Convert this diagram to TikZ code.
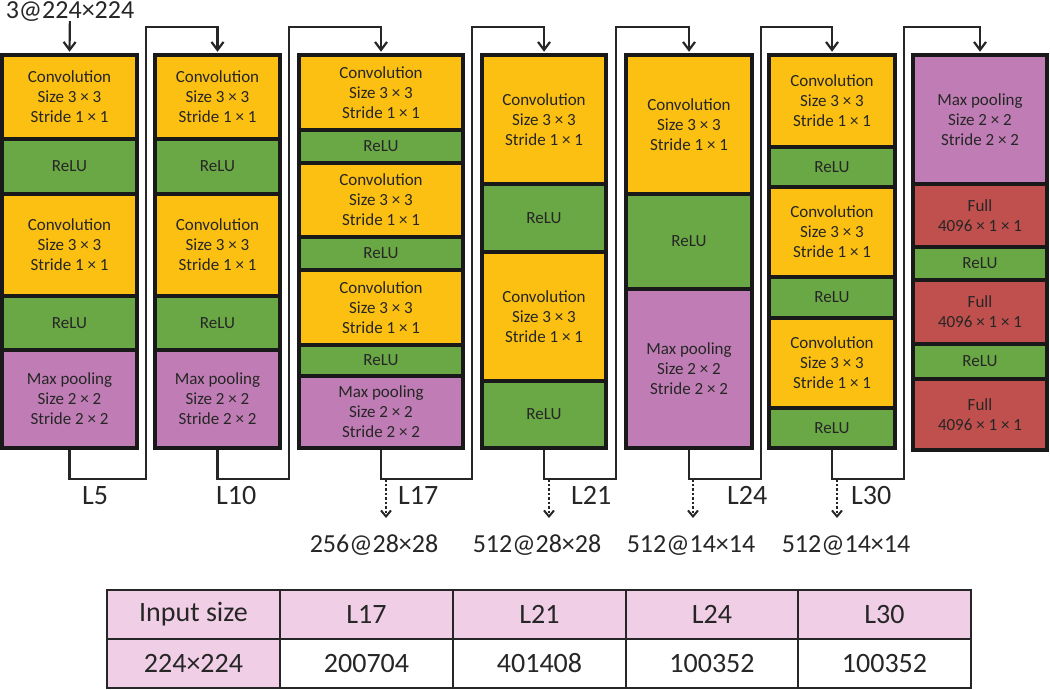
\documentclass[tikz,border=0pt]{standalone}
\usepackage{fontspec}
\setmainfont{Carlito}
\usetikzlibrary{arrows.meta,calc}

\definecolor{convorange}{HTML}{FCC012}
\definecolor{relugreen}{HTML}{6AA846}
\definecolor{poolpurple}{HTML}{C07DB5}
\definecolor{fullred}{HTML}{C0504D}
\definecolor{tablepink}{HTML}{F0CFE6}
\definecolor{inkgray}{HTML}{262626}

% box from left/right/top/bottom in pixel units
\newcommand{\blkbox}[7]{%
  \node[#2, minimum width={(#4-#3)*1pt}, minimum height={(#6-#5)*1pt}] (#1) at ({(#3+#4)/2},{(#5+#6)/2}) {#7};}
\newcommand{\convtxt}{Convolution\\Size 3 × 3\\Stride 1 × 1}
\newcommand{\pooltxt}{Max pooling\\Size 2 × 2\\Stride 2 × 2}
\newcommand{\fulltxt}{Full\\4096 × 1 × 1}

\begin{document}
\begin{tikzpicture}[x=1pt, y=-1pt,
  blk/.style={draw=black!90, line width=3.5pt, inner sep=0pt, align=center, text=inkgray, font=\fontsize{17}{20}\selectfont},
  conv/.style={blk, fill=convorange},
  relu/.style={blk, fill=relugreen},
  pool/.style={blk, fill=poolpurple},
  full/.style={blk, fill=fullred},
  cell/.style={draw=inkgray, line width=1.5pt, inner sep=0pt, text=inkgray, font=\fontsize{28}{32}\selectfont},
  link/.style={draw=inkgray, line width=2.2pt, shorten >=1.5pt, -{Straight Barb[length=8pt,width=12pt]}},
  tap/.style={draw=inkgray, line width=2pt, dash pattern=on 2.5pt off 2pt, -{Straight Barb[length=6pt,width=10pt]}},
  lbl/.style={inner sep=0pt, text=inkgray, font=\fontsize{28}{32}\selectfont},
  outlbl/.style={inner sep=0pt, text=inkgray, font=\fontsize{26}{30}\selectfont}]

\useasboundingbox (0,0) rectangle (1050,689);

% Input
\node[outlbl, anchor=base] (inp) at (70,18) {3@224×224};

% Block 1 and 2
\foreach \c/\l/\r in {1/2/137, 2/155/280} {
  \blkbox{c\c a}{conv}{\l}{\r}{55}{139}{\convtxt}
  \blkbox{c\c b}{relu}{\l}{\r}{139}{194}{ReLU}
  \blkbox{c\c c}{conv}{\l}{\r}{194}{296}{\convtxt}
  \blkbox{c\c d}{relu}{\l}{\r}{296}{350}{ReLU}
  \blkbox{c\c e}{pool}{\l}{\r}{350}{448}{\pooltxt}
}

% Block 3
\blkbox{c3a}{conv}{299}{463}{55}{130}{\convtxt}
\blkbox{c3b}{relu}{299}{463}{130}{163}{ReLU}
\blkbox{c3c}{conv}{299}{463}{163}{237}{\convtxt}
\blkbox{c3d}{relu}{299}{463}{237}{270}{ReLU}
\blkbox{c3e}{conv}{299}{463}{270}{345}{\convtxt}
\blkbox{c3f}{relu}{299}{463}{345}{376}{ReLU}
\blkbox{c3g}{pool}{299}{463}{376}{448}{\pooltxt}

% Block 4
\blkbox{c4a}{conv}{482}{606}{55}{184}{\convtxt}
\blkbox{c4b}{relu}{482}{606}{184}{252}{ReLU}
\blkbox{c4c}{conv}{482}{606}{252}{381}{\convtxt}
\blkbox{c4d}{relu}{482}{606}{381}{448}{ReLU}

% Block 5
\blkbox{c5a}{conv}{626}{752}{55}{194}{\convtxt}
\blkbox{c5b}{relu}{626}{752}{194}{289}{ReLU}
\blkbox{c5c}{pool}{626}{752}{289}{448}{\pooltxt}

% Block 6
\blkbox{c6a}{conv}{769}{895}{55}{147}{\convtxt}
\blkbox{c6b}{relu}{769}{895}{147}{187}{ReLU}
\blkbox{c6c}{conv}{769}{895}{187}{277}{\convtxt}
\blkbox{c6d}{relu}{769}{895}{277}{318}{ReLU}
\blkbox{c6e}{conv}{769}{895}{318}{408}{\convtxt}
\blkbox{c6f}{relu}{769}{895}{408}{448}{ReLU}

% Block 7
\blkbox{c7a}{pool}{913}{1047}{55}{184}{\pooltxt}
\blkbox{c7b}{full}{913}{1047}{184}{247}{\fulltxt}
\blkbox{c7c}{relu}{913}{1047}{247}{280}{ReLU}
\blkbox{c7d}{full}{913}{1047}{280}{344}{\fulltxt}
\blkbox{c7e}{relu}{913}{1047}{344}{379}{ReLU}
\blkbox{c7f}{full}{913}{1047}{379}{450}{\fulltxt}

% Connections
\draw[link] (inp) -- (c1a.north);
\foreach \a/\b/\r in {c1e/c2a/146, c2e/c3a/289, c3g/c4a/472, c4d/c5a/616, c5c/c6a/761, c6f/c7a/904}
  \draw[link] (\a.south) |- (\r,479) -- (\r,27) -| (\b.north);

% Layer labels
\foreach \n/\x in {L5/82, L10/216, L17/398, L21/571, L24/727, L30/851}
  \node[lbl, anchor=base west] (lab\n) at (\x,504) {\n};

% Feature outputs
\foreach \n/\tx/\cx/\t in {17/386/374/256@28×28, 21/549/537/512@28×28, 24/693/691/512@14×14, 30/837/846/512@14×14} {
  \coordinate (t\n) at (\tx,479);
  \coordinate (u\n) at (\tx,518);
  \node[outlbl, anchor=base] (o\n) at (\cx,552) {\t};
  \draw[tap] (t\n) -- (u\n);
}

% Table
\foreach \i/\xa/\xb/\h/\v/\f in {1/107/280/Input size/224×224/tablepink, 2/280/453/L17/200704/white, 3/453/626/L21/401408/white, 4/626/798/L24/100352/white, 5/798/971/L30/100352/white} {
  \blkbox{h\i}{cell, fill=tablepink}{\xa}{\xb}{590}{639}{\h}
  \blkbox{v\i}{cell, fill=\f}{\xa}{\xb}{639}{688}{\v}
}
\end{tikzpicture}
\end{document}
